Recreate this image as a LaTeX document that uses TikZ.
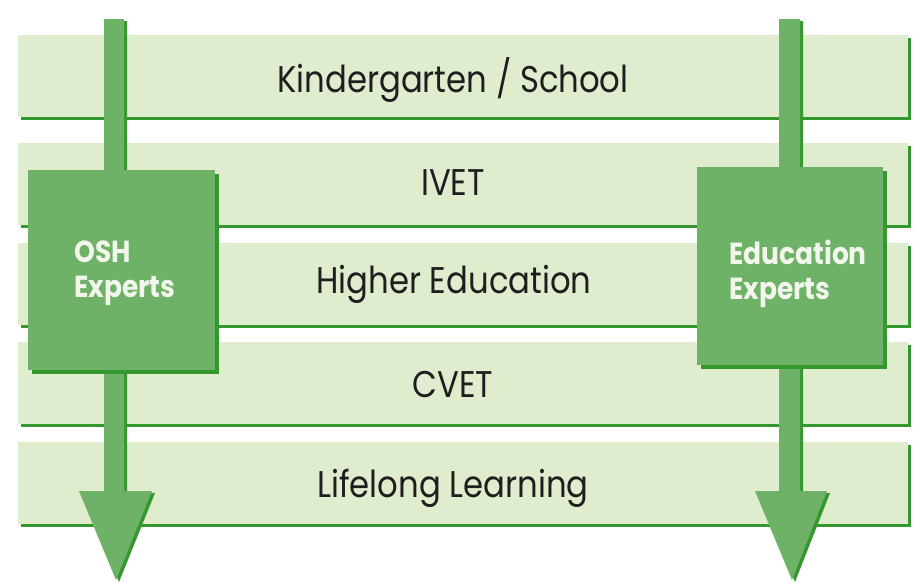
\documentclass[tikz,border=0pt]{standalone}
\usepackage{fontspec}
\usepackage{graphicx}
\setmainfont{Poppins}
\usetikzlibrary{shadows}
\definecolor{bandfill}{HTML}{E0ECCE}
\definecolor{darkgreen}{HTML}{35982F}
\definecolor{midgreen}{HTML}{6EB268}
\definecolor{boxtext}{HTML}{F2F6EC}
\definecolor{labeltext}{HTML}{1E1E1E}
\newcommand\vstretch[1]{\scalebox{1}[1.15]{#1}}
\tikzset{
  band/.style={rectangle, fill=bandfill, minimum width=890pt, minimum height=82pt, inner sep=0pt,
    drop shadow={shadow xshift=3pt, shadow yshift=-3pt, fill=darkgreen, opacity=1}},
  bandlabel/.style={text=labeltext, inner sep=0pt, font=\fontsize{32.3}{32.3}\selectfont},
  expertbox/.style={rectangle, fill=midgreen, inner sep=0pt,
    drop shadow={shadow xshift=4pt, shadow yshift=-4pt, fill=darkgreen, opacity=1}},
  boxlabel/.style={text=boxtext, inner sep=0pt, anchor=west,
    font=\fontsize{26.5}{31}\selectfont\bfseries},
  arrowbody/.style={fill=midgreen},
  arrowshadow/.style={fill=darkgreen}
}
\begin{document}
\begin{tikzpicture}[x=1pt,y=-1pt]
\useasboundingbox[fill=white] (0,0) rectangle (915,582);
% bands
\node[band] (b1) at (463,76) {};
\node[band] (b2) at (463,184) {};
\node[band] (b3) at (463,283.5) {};
\node[band] (b4) at (463,382.5) {};
\node[band] (b5) at (463,482.5) {};
\node[bandlabel] (t1) at (453,80) {\vstretch{Kindergarten / School}};
\node[bandlabel] (t2) at (453,183) {\vstretch{IVET}};
\node[bandlabel] (t3) at (454,284) {\vstretch{Higher Education}};
\node[bandlabel] (t4) at (453,384) {\vstretch{CVET}};
\node[bandlabel] (t5) at (453,488) {\vstretch{Lifelong Learning}};
% left arrow
\fill[arrowshadow] (107,21) -- (127,21) -- (127,493) -- (155,493) -- (119,582) -- (82,493) -- (107,493) -- cycle;
\fill[arrowbody] (104,19) -- (124,19) -- (124,491) -- (152,491) -- (116,580) -- (79,491) -- (104,491) -- cycle;
% right arrow
\fill[arrowshadow] (782,21) -- (803,21) -- (803,493) -- (830,493) -- (795,582) -- (758,493) -- (782,493) -- cycle;
\fill[arrowbody] (779,19) -- (800,19) -- (800,491) -- (827,491) -- (792,580) -- (755,491) -- (779,491) -- cycle;
% expert boxes
\node[expertbox, minimum width=187pt, minimum height=200pt] (osh) at (121.5,270) {};
\node[expertbox, minimum width=186pt, minimum height=198pt] (edu) at (790,266) {};
\node[boxlabel] (oshl) at (74,273) {\vstretch{\begin{tabular}{@{}l@{}}OSH\\Experts\end{tabular}}};
\node[boxlabel] (edul) at (729,275) {\vstretch{\begin{tabular}{@{}l@{}}Education\\Experts\end{tabular}}};
\end{tikzpicture}
\end{document}
